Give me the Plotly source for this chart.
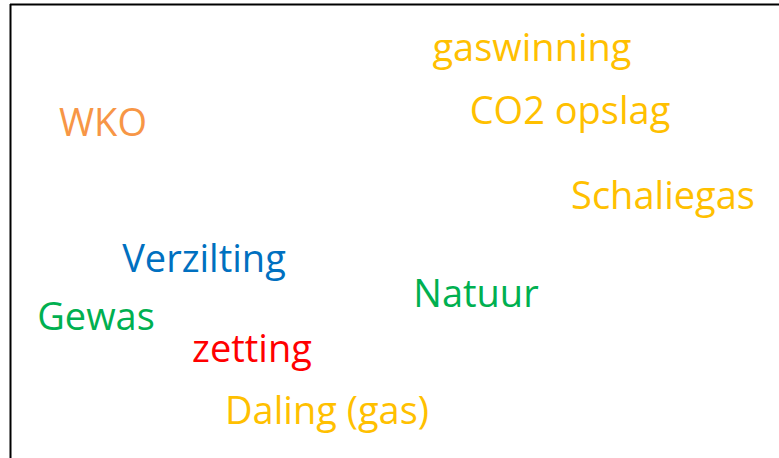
import plotly.graph_objects as go

words = ["gaswinning", "CO2 opslag", "WKO", "Schaliegas", "Verzilting",
         "Natuur", "Gewas", "zetting", "Daling (gas)"]
x_pos = [532, 570, 103, 663, 204, 476, 96, 252, 327]
y_pos = [51, 114, 126, 199, 262, 297, 320, 352, 414]
colors = ["#FFC000", "#FFC000", "#F79646", "#FFC000", "#0070C0",
          "#00B050", "#00B050", "#FF0000", "#FFC000"]

fig = go.Figure(go.Scatter(
    x=x_pos, y=y_pos, mode="text", text=words,
    textposition="middle center",
    textfont=dict(family="Open Sans", size=38, color=colors),
    hoverinfo="skip",
))
fig.update_layout(
    width=779, height=458,
    margin=dict(l=0, r=0, t=0, b=0),
    paper_bgcolor="white", plot_bgcolor="white",
    showlegend=False,
    xaxis=dict(range=[0, 779], visible=False, fixedrange=True),
    yaxis=dict(range=[458, 0], visible=False, fixedrange=True),
    shapes=[
        dict(type="line", xref="paper", yref="paper", x0=10/779, x1=1, y0=1-4.5/458, y1=1-4.5/458,
             line=dict(color="black", width=2)),
        dict(type="line", xref="paper", yref="paper", x0=10.5/779, x1=10.5/779, y0=0, y1=1-4/458,
             line=dict(color="black", width=2)),
    ],
)
fig.write_html("out.html", config={"staticPlot": True},
               post_script="document.body.style.margin='0';document.body.style.overflow='hidden';")
